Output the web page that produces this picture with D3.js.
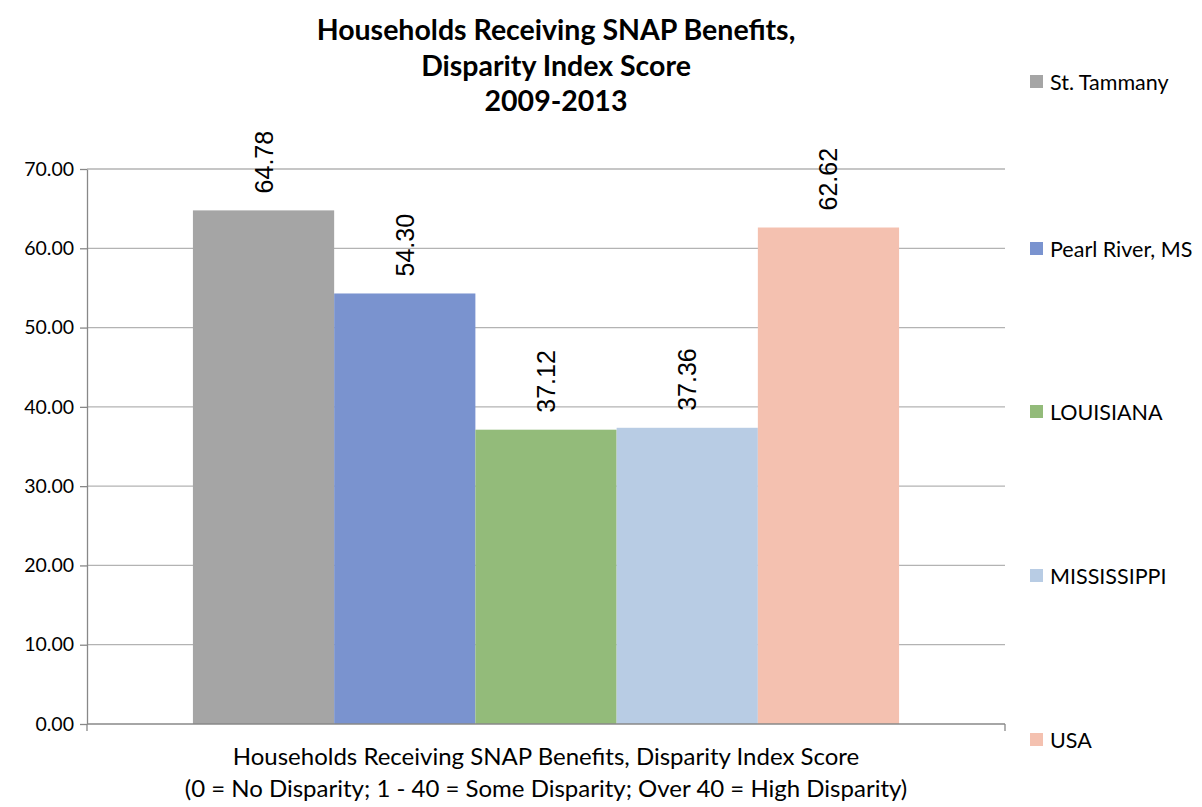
<!DOCTYPE html>
<html>
<head>
<meta charset="utf-8">
<script src="https://cdn.jsdelivr.net/npm/d3@7"></script>
<style>
  html, body { margin: 0; padding: 0; background: #fff; overflow: hidden; }
  svg { display: block; }
  svg text { fill: #000; }
</style>
</head>
<body>
<svg id="chart"></svg>
<script>
// data
const regions = ['St. Tammany', 'Pearl River, MS', 'LOUISIANA', 'MISSISSIPPI', 'USA'];
const scores = [64.78, 54.30, 37.12, 37.36, 62.62];
const barColors = ['#a5a5a5', '#7a93cf', '#93bb7a', '#b8cce4', '#f4c1b0'];
const yTicks = [0, 10, 20, 30, 40, 50, 60, 70];
const titleLines = ['Households Receiving SNAP Benefits,', 'Disparity Index Score', '2009-2013'];
const axisTitleLines = ['Households Receiving SNAP Benefits, Disparity Index Score',
  '(0 = No Disparity; 1 - 40 = Some Disparity; Over 40 = High Disparity)'];

const width = 1202, height = 807;
const margin = {top: 169, left: 87, right: 197, bottom: 83};
const innerWidth = width - margin.left - margin.right;
const innerHeight = height - margin.top - margin.bottom;
const baseFont = 'Lato, Carlito, Calibri, sans-serif';

const svg = d3.select('#chart').attr('width', width).attr('height', height);

// title
svg.append('g').selectAll('text').data(titleLines).join('text')
  .attr('x', 556).attr('y', (d, i) => 40 + i * 35.5)
  .attr('text-anchor', 'middle')
  .style('font-family', baseFont).style('font-weight', 'bold').style('font-size', '28.5px')
  .text(d => d);

const body = svg.append('g').attr('transform', `translate(${margin.left},${margin.top})`);

const y = d3.scaleLinear().domain([0, 70]).range([innerHeight, 0]);
// single category holding the five series, gap width 150%
const gap = 1.5;
const groupW = innerWidth / (1 + gap / regions.length);
const x = d3.scaleBand().domain(regions)
  .range([(innerWidth - groupW) / 2, (innerWidth + groupW) / 2]).padding(0);

// gridlines
body.append('g')
  .selectAll('line').data(yTicks.filter(d => d > 0)).join('line')
  .attr('x1', 0).attr('x2', innerWidth)
  .attr('y1', d => y(d)).attr('y2', d => y(d))
  .attr('stroke', '#b3b3b3').attr('stroke-width', 1.3);

// bars
body.append('g')
  .selectAll('rect').data(regions).join('rect')
  .attr('x', d => x(d))
  .attr('width', x.bandwidth())
  .attr('y', (d, i) => y(scores[i]))
  .attr('height', (d, i) => y(0) - y(scores[i]))
  .attr('fill', (d, i) => barColors[i]);

// value labels, rotated
body.append('g')
  .selectAll('text').data(regions).join('text')
  .attr('transform', (d, i) => `translate(${x(d) + x.bandwidth() / 2 + 9},${y(scores[i]) - 17}) rotate(-90)`)
  .style('font-family', 'Liberation Sans, Arial, sans-serif').style('font-size', '25px')
  .text((d, i) => scores[i].toFixed(2));

// y axis
const yAxis = body.append('g')
  .call(d3.axisLeft(y).tickValues(yTicks).tickFormat(d3.format('.2f')).tickSize(7).tickSizeOuter(0));
yAxis.select('.domain').attr('stroke', '#888').attr('stroke-width', 1.3);
yAxis.selectAll('.tick line').attr('stroke', '#888').attr('stroke-width', 1.3);
yAxis.selectAll('.tick text')
  .attr('x', -13)
  .style('font-family', baseFont).style('font-size', '19.5px').style('fill', '#000');

// x axis baseline
body.append('line')
  .attr('x1', 0).attr('x2', innerWidth).attr('y1', innerHeight).attr('y2', innerHeight)
  .attr('stroke', '#888').attr('stroke-width', 1.3);
body.append('g').selectAll('line').data([0, innerWidth]).join('line')
  .attr('x1', d => d).attr('x2', d => d).attr('y1', innerHeight).attr('y2', innerHeight + 7)
  .attr('stroke', '#888').attr('stroke-width', 1.3);

// axis title
svg.append('g').selectAll('text').data(axisTitleLines).join('text')
  .attr('x', margin.left + innerWidth / 2).attr('y', (d, i) => 765 + i * 32)
  .attr('text-anchor', 'middle')
  .style('font-family', baseFont).style('font-size', '24px')
  .text(d => d);

// legend
const legendY = [82, 249, 412, 576, 740];
const legend = svg.append('g').selectAll('g').data(regions).join('g')
  .attr('transform', (d, i) => `translate(1030,${legendY[i]})`);
legend.append('rect')
  .attr('x', 0).attr('y', -7).attr('width', 13).attr('height', 13)
  .attr('fill', (d, i) => barColors[i]);
legend.append('text')
  .attr('x', 20).attr('y', 8)
  .style('font-family', baseFont).style('font-size', '21.5px')
  .text(d => d);
</script>
</body>
</html>
